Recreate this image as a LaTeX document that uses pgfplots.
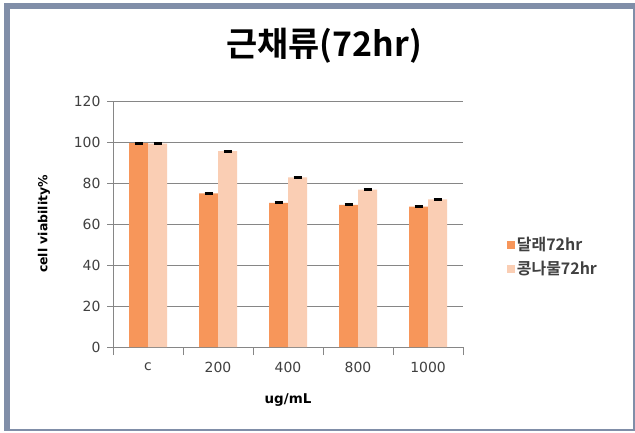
\documentclass[border=0pt]{standalone}
\usepackage{pgfplots}
\pgfplotsset{compat=1.18}
\usepackage{fontspec}
\setmainfont{DejaVu Sans}
\newfontfamily\kr{Noto Sans CJK KR}[BoldFont=* Bold]
\definecolor{frame}{RGB}{128,142,168}
\definecolor{dallae}{RGB}{247,150,90}
\definecolor{kong}{RGB}{250,206,180}
\definecolor{gridc}{RGB}{134,134,134}
\definecolor{txt}{RGB}{64,64,64}

\pgfplotstableread{
x dal  daler kong kongerr
0 99.4 0.3  99.2 0.3
1 75.0 0.3  95.6 0.3
2 70.3 0.3  82.8 0.3
3 69.3 0.3  76.8 0.3
4 68.5 0.3  72.0 0.3
}\viab

\begin{document}
\begin{tikzpicture}[x=1bp,y=1bp]
\useasboundingbox (0,0) rectangle (635,432);
% outer frame
\fill[frame] (4,1) rectangle (635,429);
\fill[white] (10,3) rectangle (633,423);
\begin{axis}[
  at={(113bp,85bp)}, anchor=south west,
  scale only axis, width=350bp, height=246bp,
  ymin=0, ymax=120, ytick={0,20,...,120},
  xmin=-0.5, xmax=4.5,
  xtick={0,...,4}, xticklabels={c,200,400,800,1000},
  minor xtick={-0.5,0.5,...,4.5},
  major x tick style={draw=none},
  minor x tick style={draw=gridc, line width=0.8pt},
  minor tick length=8bp,
  tick align=outside,
  major tick length=6bp,
  y tick style={draw=gridc, line width=0.8pt},
  ymajorgrids, grid style={gridc, line width=0.8pt},
  axis line style={gridc, line width=0.8pt},
  axis x line*=bottom, axis y line*=left,
  xtick pos=bottom, ytick pos=left,
  /pgf/number format/assume math mode=true,
  every tick label/.style={font=\fontsize{14}{14}\selectfont, text=txt},
  xticklabel style={yshift=-6bp},
  yticklabel style={xshift=-3bp},
  ylabel style={at={(rel axis cs:-0.197,0.5)}, anchor=center},
  xlabel style={at={(rel axis cs:0.5,-0.215)}, anchor=center},
  ylabel={\fontsize{12.5}{12.5}\selectfont\bfseries cell viability\%},
  xlabel={\fontsize{13.5}{13.5}\selectfont\bfseries ug/mL},
  title={\kr\bfseries\fontsize{34}{34}\selectfont 근채류(72hr)},
  title style={at={(rel axis cs:0.603,1.199)}, anchor=center},
  ybar=0pt, bar width=19bp,
  legend style={draw=none, fill=none, at={(rel axis cs:1.125,0.366)}, anchor=west,
    font=\kr\bfseries\fontsize{16}{16}\selectfont, text=txt,
    row sep=5bp, inner xsep=0pt},
  legend cell align=left,
  legend image code/.code={\fill[#1] (0bp,-4bp) rectangle (8bp,4bp);},
]
\addplot[fill=dallae, draw=none,
  error bars/.cd, y dir=both, y explicit,
  error mark options={black, line width=1.8pt, mark size=4bp, rotate=90}]
  table[x=x, y=dal, y error=daler] {\viab};
\addplot[fill=kong, draw=none,
  error bars/.cd, y dir=both, y explicit,
  error mark options={black, line width=1.8pt, mark size=4bp, rotate=90}]
  table[x=x, y=kong, y error=kongerr] {\viab};
\legend{달래72hr, 콩나물72hr}
\end{axis}
\end{tikzpicture}
\end{document}
